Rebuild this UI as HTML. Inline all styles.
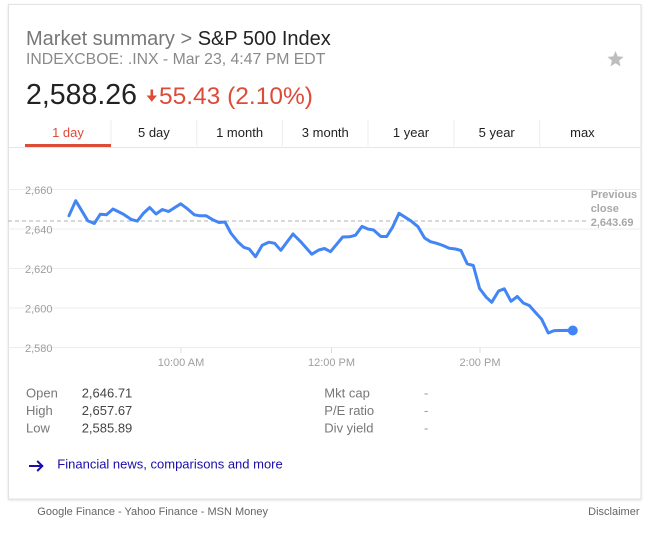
<!DOCTYPE html>
<html><head><meta charset="utf-8"><style>
html,body{margin:0;padding:0;background:#fff;width:651px;height:536px;overflow:hidden}
svg{display:block}
text{font-family:"Liberation Sans",Arial,sans-serif}
</style></head><body>
<svg width="651" height="536" viewBox="0 0 651 536" xmlns="http://www.w3.org/2000/svg">
<defs><filter id="sh" x="-5%" y="-5%" width="110%" height="110%"><feDropShadow dx="0" dy="1" stdDeviation="1" flood-color="#000" flood-opacity="0.12"/></filter></defs>
<rect x="8.5" y="4.5" width="632.5" height="494.5" fill="#fff" stroke="#e2e2e2" stroke-width="1" filter="url(#sh)"/>

<text x="26" y="45" font-size="20" fill="#777">Market summary &gt; <tspan fill="#222">S&amp;P 500 Index</tspan></text>
<text x="26" y="64" font-size="15.8" fill="#8a8a8a">INDEXCBOE: .INX - Mar 23, 4:47 PM EDT</text>
<polygon fill="#bdbdbd" points="615.5,51 617.73,56.43 623.58,56.87 619.11,60.67 620.5,66.38 615.5,63.3 610.5,66.38 611.89,60.67 607.42,56.87 613.27,56.43"/>

<text x="26" y="104" font-size="28.5" fill="#222">2,588.26</text>
<path d="M150.5,89.5 h2.6 v6 h3.9 l-5.2,6.2 l-5.2,-6.2 h3.9 z" fill="#dd4b39"/>
<text x="159" y="104" font-size="24.5" fill="#dd4b39">55.43 (2.10%)</text>

<g font-size="13" fill="#222" text-anchor="middle">
<text x="68" y="137" fill="#dd4b39">1 day</text>
<text x="153.9" y="137">5 day</text>
<text x="239.6" y="137">1 month</text>
<text x="325.3" y="137">3 month</text>
<text x="411" y="137">1 year</text>
<text x="496.7" y="137">5 year</text>
<text x="582.4" y="137">max</text>
</g>
<g stroke="#ececec" stroke-width="1">
<line x1="111" y1="120" x2="111" y2="146"/>
<line x1="196.7" y1="120" x2="196.7" y2="146"/>
<line x1="282.3" y1="120" x2="282.3" y2="146"/>
<line x1="368" y1="120" x2="368" y2="146"/>
<line x1="454" y1="120" x2="454" y2="146"/>
<line x1="539.7" y1="120" x2="539.7" y2="146"/>
</g>
<line x1="8" y1="147.5" x2="641" y2="147.5" stroke="#e6e6e6" stroke-width="1"/>
<rect x="25" y="144" width="86" height="3" fill="#dd4b39"/>

<g stroke="#ececec" stroke-width="1">
<line x1="8" y1="189.5" x2="640" y2="189.5"/>
<line x1="8" y1="229" x2="640" y2="229"/>
<line x1="8" y1="268.5" x2="640" y2="268.5"/>
<line x1="8" y1="308" x2="640" y2="308"/>
<line x1="8" y1="347.5" x2="640" y2="347.5"/>
</g>
<g stroke="#dcdcdc" stroke-width="1">
<line x1="181" y1="347.5" x2="181" y2="353"/>
<line x1="331.5" y1="347.5" x2="331.5" y2="353"/>
<line x1="480" y1="347.5" x2="480" y2="353"/>
</g>
<g font-size="11" fill="#9e9e9e">
<text x="25" y="194">2,660</text>
<text x="25" y="233.5">2,640</text>
<text x="25" y="273">2,620</text>
<text x="25" y="312.5">2,600</text>
<text x="25" y="352">2,580</text>
</g>
<g font-size="11" fill="#9e9e9e" text-anchor="middle">
<text x="181" y="366">10:00 AM</text>
<text x="331.5" y="366">12:00 PM</text>
<text x="480" y="366">2:00 PM</text>
</g>
<line x1="8" y1="221" x2="587" y2="221" stroke="#b0b0b0" stroke-width="1" stroke-dasharray="4,3"/>
<g font-size="11" font-weight="bold" fill="#a8a8a8">
<text x="590.7" y="198">Previous</text>
<text x="590.7" y="212">close</text>
<text x="590.7" y="226">2,643.69</text>
</g>

<polyline fill="none" stroke="#4285f4" stroke-width="3" stroke-linejoin="round" stroke-linecap="round" points="69,215.7 75.7,200.7 87.8,220.8 94.3,223.5 100.3,214.2 106.5,214.8 113,209 123.3,214.1 131.3,219.5 137.3,221.1 143.3,213.4 149.7,207.5 156,214 162.3,209.5 168.6,211.5 180.7,203.8 187.3,208.7 194.3,214.8 200,215.8 206,215.7 212.7,219.7 219,222.5 225,222 230.8,233 238,242 243.8,247.3 249.3,249.1 255.5,256.7 262.2,245.2 268.8,242.2 274.7,243.3 280.8,250.3 293,234 300.3,241.3 311.8,254.2 318.8,250 324.5,248.5 330.5,251.7 342.7,237 349.6,236.8 355.5,235.2 362,226.4 367.8,229 373.6,230 380.8,236.5 386.7,236.5 392.8,226.8 399,213.3 410.8,220.8 418,226.7 424.6,238 430.5,241.7 436.7,243.3 443,245.5 449.2,248.3 455.5,249 461,250.5 467.2,263.8 473.3,265.5 479.6,288.5 486.2,297.2 491.7,302.3 498.6,291 504.3,288.8 511,301.3 517.3,296.5 523.3,303 529.3,305.5 535.5,312.5 541.7,319.3 548.3,333 554.2,330.6 566.7,330.4 572.8,330.5"/>
<circle cx="572.8" cy="330.5" r="5" fill="#4285f4"/>

<g font-size="13">
<text x="26" y="397.5" fill="#777">Open</text>
<text x="26" y="415" fill="#777">High</text>
<text x="26" y="432.7" fill="#777">Low</text>
<text x="81.7" y="397.5" fill="#444">2,646.71</text>
<text x="81.7" y="415" fill="#444">2,657.67</text>
<text x="81.7" y="432.7" fill="#444">2,585.89</text>
<text x="324.3" y="397.5" fill="#777">Mkt cap</text>
<text x="324.3" y="415" fill="#777">P/E ratio</text>
<text x="324.3" y="432.7" fill="#777">Div yield</text>
<text x="424" y="397.5" fill="#999">-</text>
<text x="424" y="415" fill="#999">-</text>
<text x="424" y="432.7" fill="#999">-</text>
</g>
<g stroke="#1a0dab" stroke-width="2" fill="none" stroke-linecap="square">
<line x1="30" y1="466" x2="42" y2="466"/>
<polyline points="37.2,461 42.3,466 37.2,471" stroke-linejoin="miter" stroke-linecap="butt"/>
</g>
<text x="57.3" y="468.5" font-size="13" fill="#1a0dab">Financial news, comparisons and more</text>

<text x="37.3" y="515" font-size="11" fill="#666">Google Finance - Yahoo Finance - MSN Money</text>
<text x="639.5" y="515" font-size="11" fill="#666" text-anchor="end">Disclaimer</text>
</svg>
</body></html>
